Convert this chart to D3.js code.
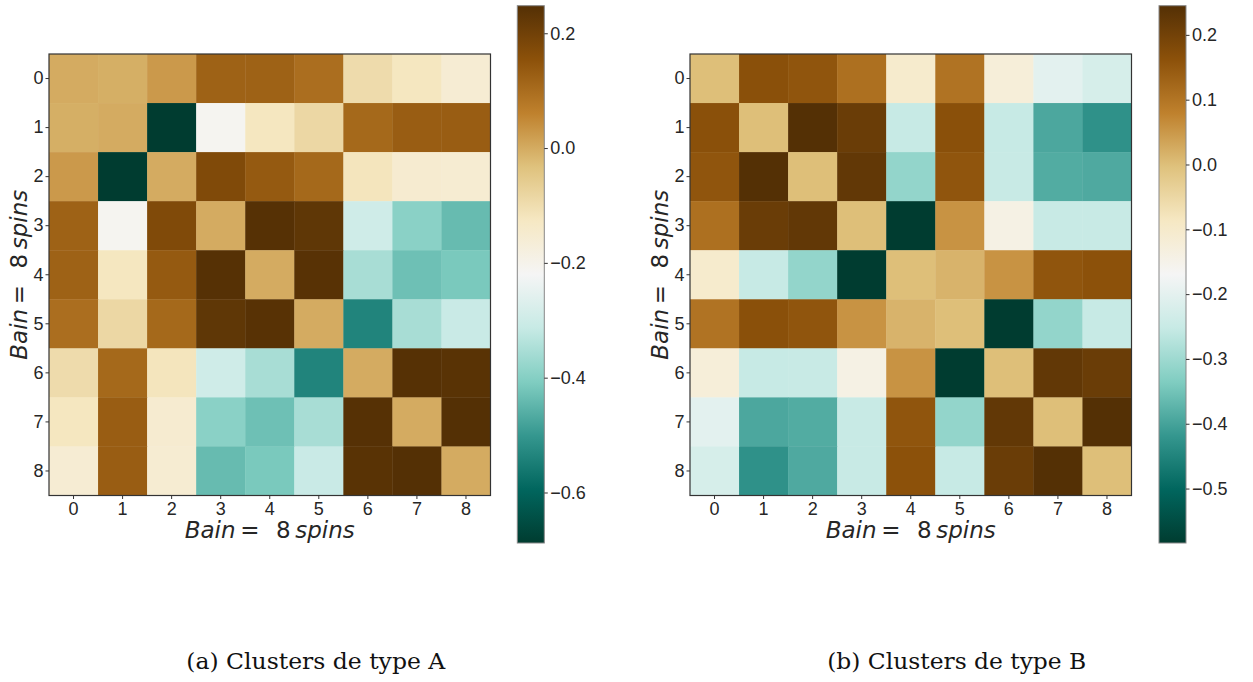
<!DOCTYPE html>
<html>
<head>
<meta charset="utf-8">
<script src="https://cdn.jsdelivr.net/npm/d3@7"></script>
<style>
  body { margin: 0; background: #fff; }
  svg { display: block; }
</style>
</head>
<body>
<div id="vis"></div>
<script>
// correlation matrices (symmetric, diagonal 0)
const labels = [0, 1, 2, 3, 4, 5, 6, 7, 8];

const matA = [
  [ 0.000, -0.005,  0.026,  0.121,  0.121,  0.098, -0.095, -0.123, -0.157],
  [-0.005,  0.000, -0.688, -0.210, -0.123, -0.085,  0.108,  0.131,  0.131],
  [ 0.026, -0.688,  0.000,  0.175,  0.137,  0.108, -0.118, -0.150, -0.155],
  [ 0.121, -0.210,  0.175,  0.000,  0.245,  0.229, -0.298, -0.394, -0.439],
  [ 0.121, -0.123,  0.137,  0.245,  0.000,  0.242, -0.354, -0.430, -0.415],
  [ 0.098, -0.085,  0.108,  0.229,  0.242,  0.000, -0.537, -0.355, -0.310],
  [-0.095,  0.108, -0.118, -0.298, -0.354, -0.537,  0.000,  0.245,  0.240],
  [-0.123,  0.131, -0.150, -0.394, -0.430, -0.355,  0.245,  0.000,  0.248],
  [-0.157,  0.131, -0.155, -0.439, -0.415, -0.310,  0.240,  0.248,  0.000]
];

const matB = [
  [ 0.000,  0.165,  0.155,  0.109, -0.103,  0.104, -0.123, -0.202, -0.225],
  [ 0.165,  0.000,  0.245,  0.212, -0.252,  0.165, -0.252, -0.393, -0.428],
  [ 0.155,  0.245,  0.000,  0.224, -0.313,  0.155, -0.250, -0.386, -0.390],
  [ 0.109,  0.212,  0.224,  0.000, -0.584,  0.056, -0.141, -0.250, -0.250],
  [-0.103, -0.252, -0.313, -0.584,  0.000,  0.015,  0.056,  0.155,  0.162],
  [ 0.104,  0.165,  0.155,  0.056,  0.015,  0.000, -0.584, -0.313, -0.252],
  [-0.123, -0.252, -0.250, -0.141,  0.056, -0.584,  0.000,  0.224,  0.212],
  [-0.202, -0.393, -0.386, -0.250,  0.155, -0.313,  0.224,  0.000,  0.245],
  [-0.225, -0.428, -0.390, -0.250,  0.162, -0.252,  0.212,  0.245,  0.000]
];

const ticksA = [0.2, 0.0, -0.2, -0.4, -0.6];
const ticksB = [0.2, 0.1, 0.0, -0.1, -0.2, -0.3, -0.4, -0.5];
const captions = ["(a) Clusters de type A", "(b) Clusters de type B"];

// BrBG (reversed: brown = high, teal = low), listed from high to low
const brbg = ["#543005","#8c510a","#bf812d","#dfc27d","#f6e8c3","#f5f5f5",
              "#c7eae5","#80cdc1","#35978f","#01665e","#003c30"];

const W = 1253, H = 682;
const plotTop = 54, size = 441.5;
const cbTop = 5.7, cbBot = 543, cbW = 27;
const sansFont = "'Liberation Sans', Arial, sans-serif";
const textCol = "#262626";

const svg = d3.select("#vis").append("svg")
  .attr("width", W)
  .attr("height", H);

const defs = svg.append("defs");

function drawPanel(mat, ticks, left, cbLeft, caption, id){
  const flat = mat.flat();
  const [vmin, vmax] = d3.extent(flat);

  const color = d3.scaleLinear()
    .domain(d3.range(11).map(i => vmax - i * (vmax - vmin) / 10))
    .range(brbg);

  const x = d3.scaleBand().domain(labels).range([left, left + size]);
  const y = d3.scaleBand().domain(labels).range([plotTop, plotTop + size]);

  const g = svg.append("g");

  const cells = [];
  mat.forEach((row, r) => row.forEach((v, c) => cells.push({r: r, c: c, v: v})));

  g.selectAll("rect.cell")
    .data(cells)
    .enter().append("rect")
    .attr("class", "cell")
    .attr("x", d => x(d.c))
    .attr("y", d => y(d.r))
    .attr("width", x.bandwidth() + 0.4)
    .attr("height", y.bandwidth() + 0.4)
    .attr("fill", d => color(d.v));

  g.append("rect")
    .attr("x", left)
    .attr("y", plotTop)
    .attr("width", size)
    .attr("height", size)
    .attr("fill", "none")
    .attr("stroke", "#333")
    .attr("stroke-width", 1.2);

  const xAxis = g.append("g")
    .attr("transform", "translate(0," + (plotTop + size) + ")")
    .call(d3.axisBottom(x).tickSize(3.5).tickPadding(3.5));
  const yAxis = g.append("g")
    .attr("transform", "translate(" + left + ",0)")
    .call(d3.axisLeft(y).tickSize(3.5).tickPadding(2));

  [xAxis, yAxis].forEach(a => {
    a.select(".domain").remove();
    a.selectAll("line").attr("stroke", "#333");
    a.selectAll("text")
      .attr("fill", textCol)
      .style("font-family", sansFont)
      .style("font-size", "18px");
  });

  // axis titles
  const xl = g.append("text")
    .attr("x", left + size / 2)
    .attr("y", 538)
    .attr("text-anchor", "middle");
  const yl = g.append("text")
    .attr("transform", "translate(" + (left - 22) + "," + (plotTop + size / 2) + ")rotate(-90)")
    .attr("text-anchor", "middle");
  [xl, yl].forEach(t => {
    t.attr("fill", textCol)
      .style("font-family", "'DejaVu Sans', sans-serif")
      .style("font-size", "23px");
    t.append("tspan").style("font-style", "italic").text("Bain");
    t.append("tspan").text("\u2009=\u2009\u2009 8\u2009");
    t.append("tspan").style("font-style", "italic").text("spins");
  });

  // colorbar
  const grad = defs.append("linearGradient")
    .attr("id", "grad" + id)
    .attr("x1", 0).attr("y1", 0)
    .attr("x2", 0).attr("y2", 1);
  grad.selectAll("stop")
    .data(brbg)
    .enter().append("stop")
    .attr("offset", (d, i) => i / 10)
    .attr("stop-color", d => d);

  g.append("rect")
    .attr("x", cbLeft)
    .attr("y", cbTop)
    .attr("width", cbW)
    .attr("height", cbBot - cbTop)
    .attr("fill", "url(#grad" + id + ")")
    .attr("stroke", "#888")
    .attr("stroke-width", 1);

  const cy = d3.scaleLinear().domain([vmin, vmax]).range([cbBot, cbTop]);
  const cAxis = g.append("g")
    .attr("transform", "translate(" + (cbLeft + cbW) + ",0)")
    .call(d3.axisRight(cy).tickValues(ticks).tickFormat(d3.format(".1f")).tickSize(3.5).tickPadding(2.5));
  cAxis.select(".domain").remove();
  cAxis.selectAll("line").attr("stroke", "#333");
  cAxis.selectAll("text")
    .attr("fill", textCol)
    .style("font-family", sansFont)
    .style("font-size", "18px");

  // caption below
  g.append("text")
    .attr("x", left + size / 2 + 46)
    .attr("y", 669)
    .attr("text-anchor", "middle")
    .attr("textLength", 259)
    .attr("lengthAdjust", "spacingAndGlyphs")
    .attr("fill", "#111")
    .style("font-family", "'DejaVu Serif', serif")
    .style("font-size", "22px")
    .text(caption);
}

drawPanel(matA, ticksA, 49, 517.3, captions[0], "A");
drawPanel(matB, ticksB, 690, 1159, captions[1], "B");
</script>
</body>
</html>
